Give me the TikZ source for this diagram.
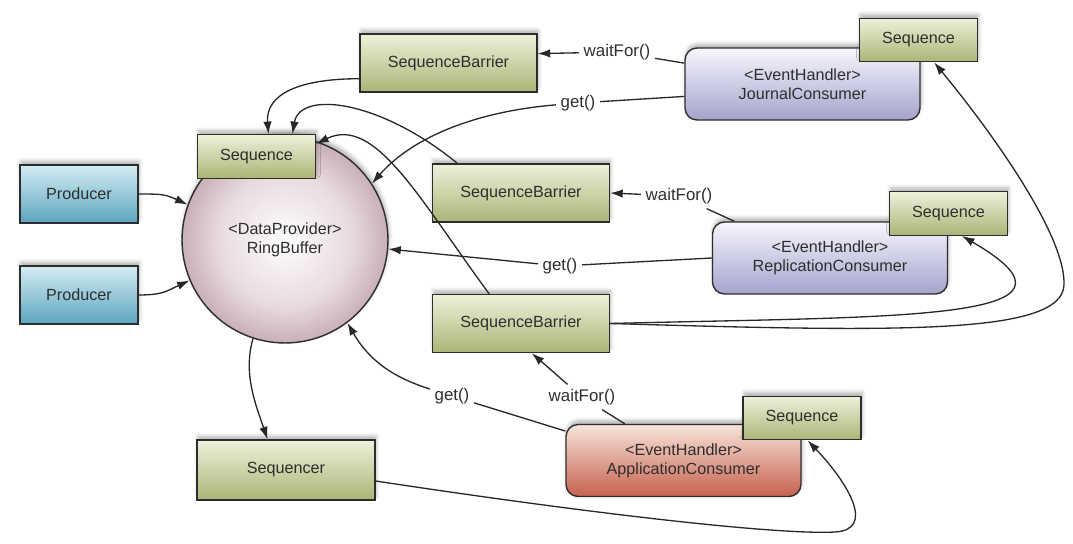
\documentclass[tikz,border=0pt]{standalone}
\usepackage{fontspec}
\setmainfont{Liberation Sans}
\usetikzlibrary{arrows.meta,shadows.blur}
\definecolor{edgeGray}{RGB}{45,45,45}
\definecolor{wireGray}{RGB}{40,40,40}
\definecolor{greenTop}{RGB}{238,240,218}
\definecolor{greenBot}{RGB}{172,180,118}
\definecolor{blueTop}{RGB}{212,236,243}
\definecolor{blueBot}{RGB}{92,165,192}
\definecolor{lilacTop}{RGB}{247,247,253}
\definecolor{lilacBot}{RGB}{163,163,205}
\definecolor{redTop}{RGB}{248,228,218}
\definecolor{redBot}{RGB}{198,98,76}
\definecolor{ringIn}{RGB}{250,247,248}
\definecolor{ringMid}{RGB}{232,219,222}
\definecolor{ringOut}{RGB}{200,176,182}
\pgfdeclareradialshading{ringshade}{\pgfpoint{0bp}{0bp}}{color(0bp)=(ringIn); color(3bp)=(ringIn); color(16bp)=(ringMid); color(25bp)=(ringOut); color(50bp)=(ringOut)}

\begin{document}
\begin{tikzpicture}[x=0.02cm, y=-0.02cm,
    font=\fontsize{9.2}{11}\selectfont, text=black!82,
    box/.style={draw=edgeGray, line width=0.8pt, align=center, inner sep=0pt,
      blur shadow={shadow xshift=0.6pt, shadow yshift=2.2pt, shadow blur radius=2.2pt, shadow opacity=30}},
    greenbox/.style={box, top color=greenTop, bottom color=greenBot},
    seqtag/.style={greenbox, minimum width=2.36cm, minimum height=0.87cm},
    barrier/.style={greenbox, minimum width=3.54cm, minimum height=1.16cm},
    producer/.style={box, top color=blueTop, bottom color=blueBot, minimum width=2.36cm, minimum height=1.16cm},
    consumer/.style={box, rounded corners=0.24cm, top color=lilacTop, bottom color=lilacBot, minimum width=4.7cm, minimum height=1.44cm},
    ringnode/.style={circle, draw=edgeGray, line width=0.8pt, shading=ringshade, minimum size=4.12cm, align=center,
      blur shadow={shadow xshift=0.6pt, shadow yshift=2.2pt, shadow blur radius=2.2pt, shadow opacity=30}},
    conn/.style={draw=wireGray, line width=0.75pt},
    arr/.style={conn, -{Latex[length=2.5mm, width=1.7mm]}},
    call/.style={inner sep=2.5pt, font=\fontsize{9.6}{11}\selectfont}]
  \useasboundingbox (0,0) rectangle (1073,544);

  % ring buffer and its producers
  \node[ringnode] (ring) at (285,240) {<DataProvider>\\RingBuffer};
  \node[seqtag] (rseq) at (256.5,156.5) {Sequence};
  \node[producer] (prod1) at (79,194) {Producer};
  \node[producer] (prod2) at (79,295) {Producer};
  \node[greenbox, minimum width=3.56cm, minimum height=1.2cm] (sqr) at (286,470) {Sequencer};

  % barriers
  \node[barrier] (sb1) at (448.5,63) {SequenceBarrier};
  \node[barrier] (sb2) at (521,193) {SequenceBarrier};
  \node[barrier] (sb3) at (521,323.5) {SequenceBarrier};

  % consumers
  \node[consumer] (jc) at (802.5,84) {<EventHandler>\\JournalConsumer};
  \node[seqtag] (js) at (918.5,40) {Sequence};
  \node[consumer] (rc) at (830,258) {<EventHandler>\\ReplicationConsumer};
  \node[seqtag] (rs) at (948.5,213.5) {Sequence};
  \node[consumer, top color=redTop, bottom color=redBot] (ac) at (683.5,460.5) {<EventHandler>\\ApplicationConsumer};
  \node[seqtag] (as) at (802,418) {Sequence};

  \draw[arr] (prod1.east) .. controls +(25,0) and +(-22,-10) .. (ring.160);
  \draw[arr] (prod2.east) .. controls +(25,0) and +(-22,10) .. (ring.203);
  \draw[arr] (ring.252) .. controls +(-10,35) and +(-12,-35) .. (sqr.121);

  % barriers watch the ring sequence
  \draw[arr] (sb1.190) .. controls +(-60,0) and +(-3,-40) .. (rseq.62);
  \draw[arr] (sb2.155) .. controls (380,100) and (300,90) .. (rseq.32);
  \draw[arr] (sb3.137) .. controls (420,200) and (375,115) .. (rseq.12);

  % journal consumer
  \node[call] (wf1) at (617,52) {waitFor()};
  \node[call] (get1) at (578,103) {get()};
  \draw[conn] (jc.170) -- (wf1);
  \draw[arr] (wf1) -- (sb1.6);
  \draw[conn] (jc.186) -- (get1);
  \draw[arr] (get1) .. controls (470,112) and (410,140) .. (ring.33);

  % replication consumer
  \node[call] (wf2) at (679,196) {waitFor()};
  \node[call] (get2) at (560,266) {get()};
  \draw[conn] (rc.159) -- (wf2);
  \draw[arr] (wf2) -- (sb2.east);
  \draw[conn] (rc.west) -- (get2);
  \draw[arr] (get2) -- (ring.-5);

  % application consumer
  \node[call] (wf3) at (582,397) {waitFor()};
  \node[call] (get3) at (452,396) {get()};
  \draw[conn] (ac.148) -- (wf3);
  \draw[arr] (wf3) -- (sb3.-70);
  \draw[conn] (ac.166) -- (get3);
  \draw[arr] (get3) .. controls (395,378) and (370,362) .. (ring.-53);

  % sequences fed back
  \draw[arr] (sb3.east) .. controls (900,316) and (1110,322) .. (rs.-59);
  \draw[arr] (sb3.east) .. controls (900,332) and (1062,335) .. (1064,285)
    .. controls (1066,235) and (990,130) .. (js.-55);
  \draw[arr] (sqr.-7) .. controls (600,515) and (780,535) .. (835,532)
    .. controls (875,530) and (850,485) .. (as.-76);
\end{tikzpicture}
\end{document}
